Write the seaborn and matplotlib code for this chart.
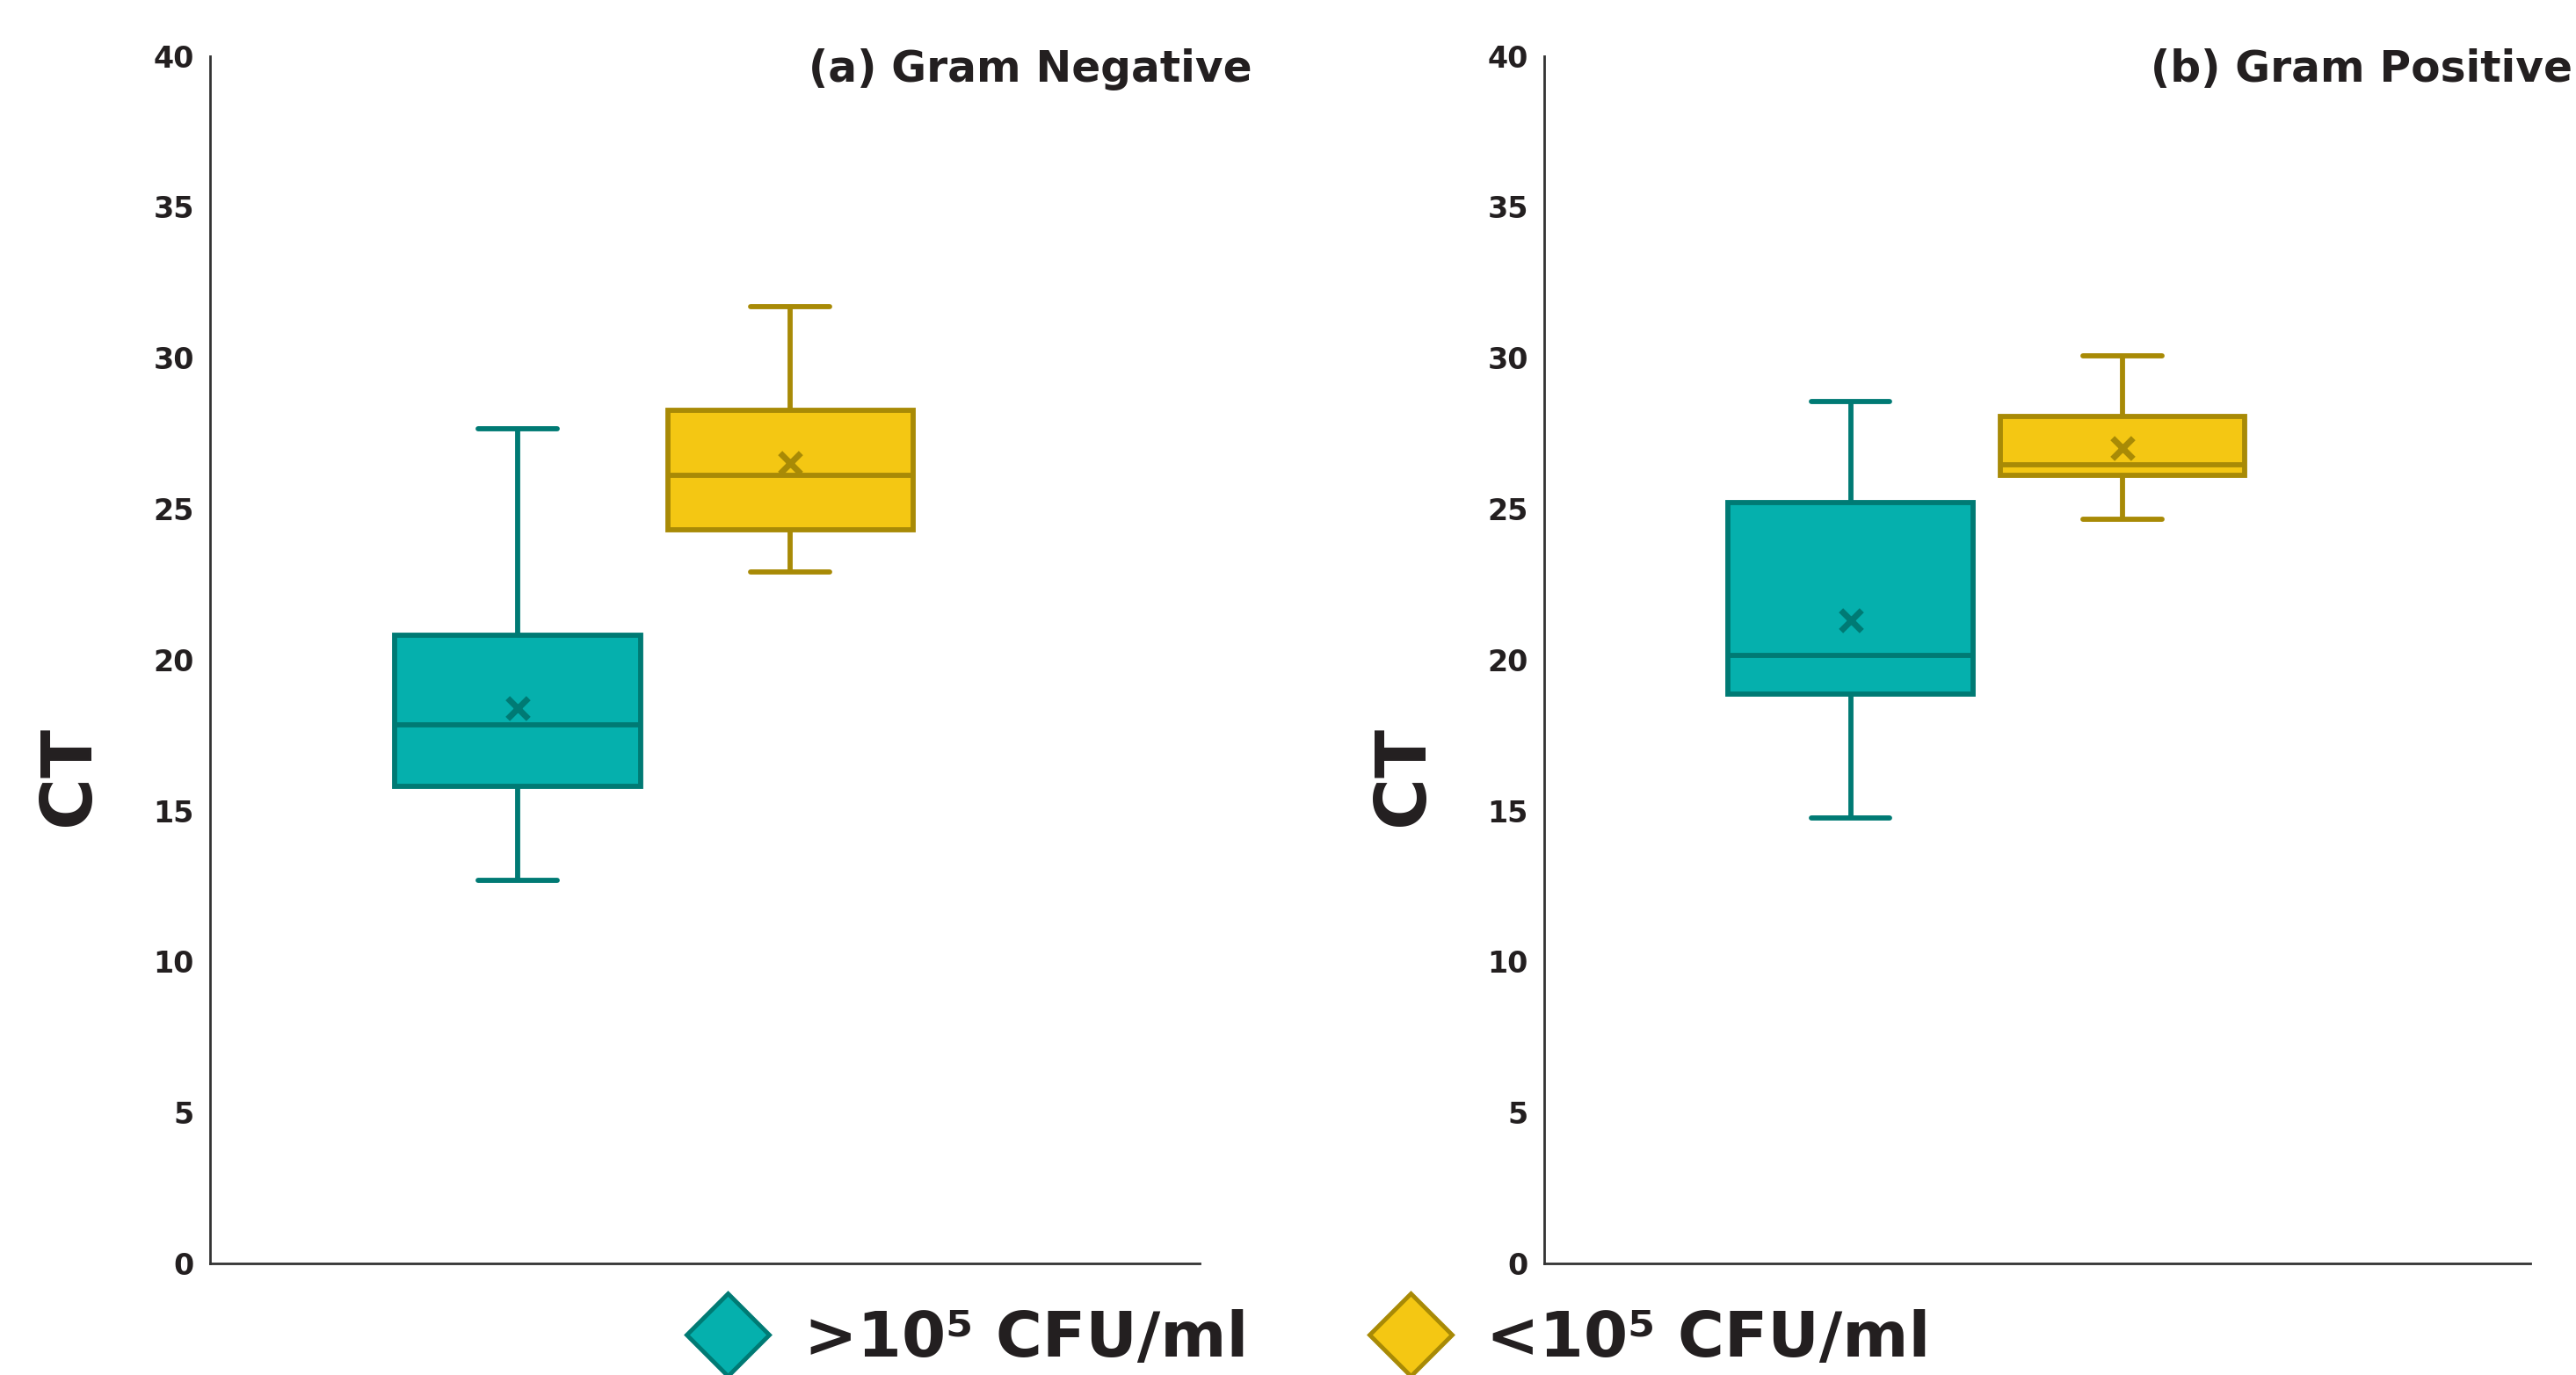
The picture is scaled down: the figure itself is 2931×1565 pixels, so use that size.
import numpy as np
import pandas as pd
import matplotlib.pyplot as plt
import seaborn as sns
from matplotlib.lines import Line2D

# Group labels and colours
groups = [">10\u2075 CFU/ml", "<10\u2075 CFU/ml"]
fills = ["#05B0AD", "#F4C713"]
edges = ["#007A74", "#A88A06"]

# (a) Gram Negative - box statistics
neg_min = [12.7, 22.9]
neg_q1 = [15.8, 24.3]
neg_med = [17.85, 26.1]
neg_q3 = [20.8, 28.25]
neg_max = [27.65, 31.7]
neg_mean = [18.4, 26.5]

# (b) Gram Positive
pos_min = [14.75, 24.65]
pos_q1 = [18.85, 26.1]
pos_med = [20.15, 26.45]
pos_q3 = [25.2, 28.05]
pos_max = [28.55, 30.05]
pos_mean = [21.3, 27.0]

yticks = [0, 5, 10, 15, 20, 25, 30, 35, 40]

TXT = "#231F20"
FONT = ["DejaVu Sans"]
W = "bold"


def five_point_frame(mins, q1s, meds, q3s, maxs):
    # five values per group give exactly these quartiles with linear percentiles
    rows = []
    for g, a, b, c, d, e in zip(groups, mins, q1s, meds, q3s, maxs):
        for v in (a, b, c, d, e):
            rows.append({"group": g, "ct": v})
    return pd.DataFrame(rows)


def draw_panel(ax, df, means, title, title_x):
    for g, fc, ec in zip(groups, fills, edges):
        sns.boxplot(data=df[df["group"] == g], x="group", y="ct", order=groups,
                    color=fc, linecolor=ec, linewidth=4.2, width=0.9,
                    whis=(0, 100), saturation=1, capwidths=0.29, ax=ax)
    sns.stripplot(x=groups, y=means, order=groups, hue=groups, palette=edges,
                  marker="x", size=17, linewidth=5, jitter=False, legend=False,
                  ax=ax, zorder=5)
    ax.set_xlim(-1.127, 2.5)
    ax.set_ylim(0, 40)
    ax.set_yticks(yticks)
    ax.set_xticks([])
    ax.set_xlabel("")
    ax.set_ylabel("CT", fontsize=58, fontweight=W, color=TXT)
    ax.yaxis.set_label_coords(-0.108, 0.404)
    ax.tick_params(axis="y", direction="inout", length=14, width=2.5,
                   color="#333333", labelsize=24, labelcolor=TXT, pad=6)
    for lab in ax.get_yticklabels():
        lab.set_fontweight(W)
    sns.despine(ax=ax)
    for s in ("left", "bottom"):
        ax.spines[s].set_linewidth(2)
        ax.spines[s].set_color("#333333")
    ax.text(title_x, 1.006, title, transform=ax.transAxes, ha="right", va="top",
            fontsize=35, fontweight=W, color=TXT)


sns.set_style("white")
plt.rcParams['font.family'] = FONT
plt.rcParams['font.weight'] = W

fig = plt.figure(figsize=(29.31, 15.65), dpi=100)
ax1 = fig.add_axes([0.0816, 0.0812, 0.384, 0.8782])
ax2 = fig.add_axes([0.5995, 0.0812, 0.3826, 0.8782])

draw_panel(ax1, five_point_frame(neg_min, neg_q1, neg_med, neg_q3, neg_max),
           neg_mean, "(a) Gram Negative", 1.053)
draw_panel(ax2, five_point_frame(pos_min, pos_q1, pos_med, pos_q3, pos_max),
           pos_mean, "(b) Gram Positive", 1.043)

handles = [Line2D([], [], marker="D", linestyle="none", markersize=48,
                  markerfacecolor=fc, markeredgecolor=ec, markeredgewidth=3.5)
           for fc, ec in zip(fills, edges)]
leg = fig.legend(handles, groups, loc="center", bbox_to_anchor=(0.508, 0.026),
                 ncol=2, frameon=False, handlelength=1.3,
                 handletextpad=0.55, columnspacing=1.9,
                 prop={"family": FONT, "weight": W, "size": 52})
for t in leg.get_texts():
    t.set_color(TXT)

fig.savefig("out.png", dpi=100)
